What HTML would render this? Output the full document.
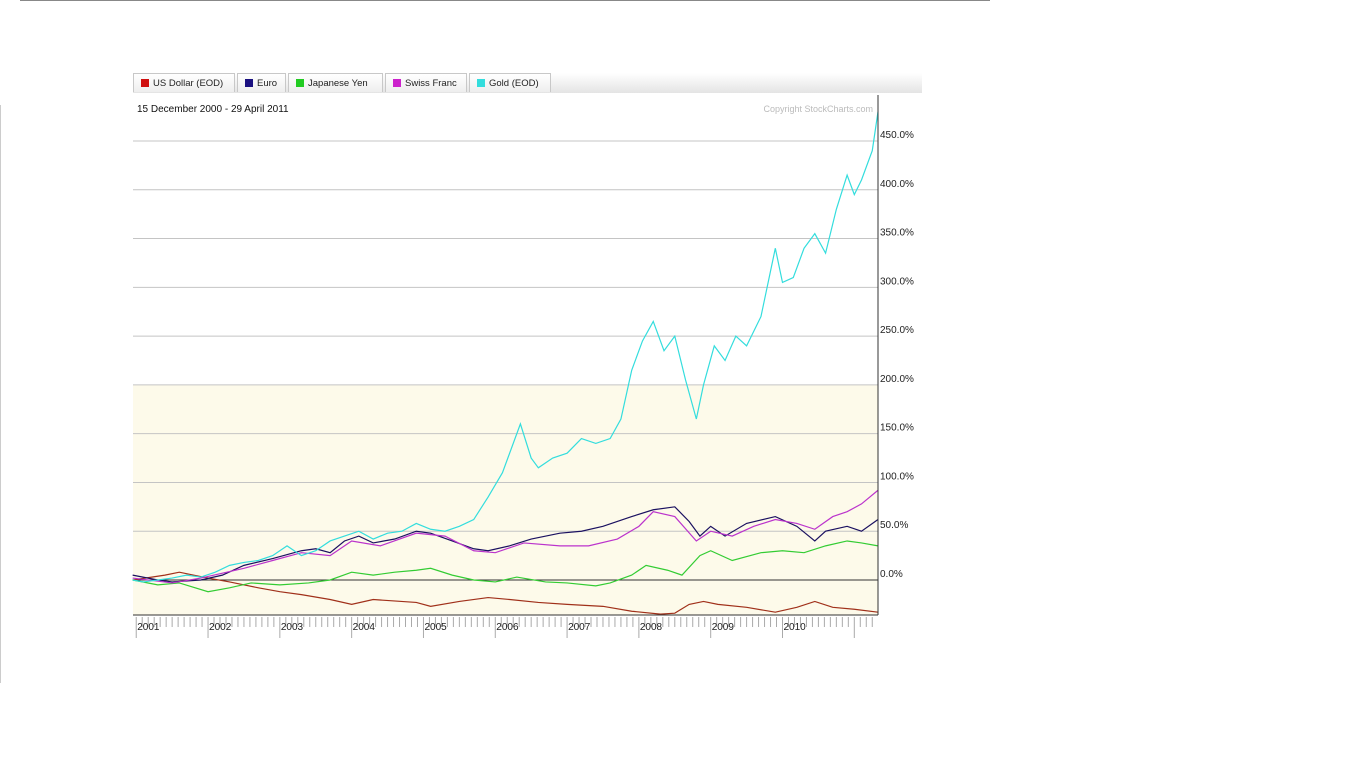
<!DOCTYPE html>
<html><head><meta charset="utf-8"><style>
body{margin:0;width:1351px;height:768px;background:#fff;overflow:hidden;font-family:"Liberation Sans",sans-serif;position:relative}
.tab{position:absolute;top:73px;height:19px;border:1px solid #c8c8c8;border-bottom:none;background:linear-gradient(#fff,#eee);font-size:9.5px;line-height:19px;color:#222;padding:0 4px 0 19px;box-sizing:border-box;white-space:nowrap;overflow:hidden}
.tab i{position:absolute;left:7px;top:5px;width:8px;height:8px}
</style></head><body>
<div style="position:absolute;left:20px;top:0;width:970px;height:1px;background:#888"></div>
<div style="position:absolute;left:0;top:105px;width:1px;height:578px;background:#ccc"></div>
<div style="position:absolute;left:133px;top:73px;width:789px;height:20px;background:linear-gradient(#fff,#e4e4e4)"></div>
<div class="tab" style="left:133px;width:102px"><i style="background:#d01010"></i>US Dollar (EOD)</div>
<div class="tab" style="left:237px;width:49px"><i style="background:#1a1080"></i>Euro</div>
<div class="tab" style="left:288px;width:95px"><i style="background:#22cc22"></i>Japanese Yen</div>
<div class="tab" style="left:385px;width:82px"><i style="background:#cc22cc"></i>Swiss Franc</div>
<div class="tab" style="left:469px;width:82px"><i style="background:#33dddd"></i>Gold (EOD)</div>
<svg id="chart" width="1351" height="768" style="position:absolute;left:0;top:0">
<rect x="133" y="385" width="745" height="230" fill="#fdfaea"/>
<text x="137" y="112" font-size="10" fill="#111">15 December 2000 - 29 April 2011</text>
<text x="873" y="112" font-size="9" fill="#bbb" text-anchor="end">Copyright StockCharts.com</text>
<g id="grid"></g><g id="series"></g><g id="axes"></g>
</svg>
<script>
const yTicks=[0,50,100,150,200,250,300,350,400,450];
const years=[2001,2002,2003,2004,2005,2006,2007,2008,2009,2010];
const goldT=[2000.95,2001.1,2001.3,2001.5,2001.7,2001.9,2002.1,2002.3,2002.5,2002.7,2002.9,2003.1,2003.3,2003.5,2003.7,2003.9,2004.1,2004.3,2004.5,2004.7,2004.9,2005.1,2005.3,2005.5,2005.7,2005.9,2006.1,2006.35,2006.5,2006.6,2006.8,2007.0,2007.2,2007.4,2007.6,2007.75,2007.9,2008.05,2008.2,2008.35,2008.5,2008.65,2008.8,2008.9,2009.05,2009.2,2009.35,2009.5,2009.7,2009.9,2010.0,2010.15,2010.3,2010.45,2010.6,2010.75,2010.9,2011.0,2011.1,2011.25,2011.33];
const goldV=[0,-2,0,2,5,3,8,15,18,20,25,35,25,30,40,45,50,42,48,50,58,52,50,55,62,85,110,160,125,115,125,130,145,140,145,165,215,245,265,235,250,205,165,200,240,225,250,240,270,340,305,310,340,355,335,380,415,395,410,440,480];
const euroT=[2000.95,2001.3,2001.5,2001.9,2002.2,2002.5,2002.9,2003.3,2003.5,2003.7,2003.9,2004.1,2004.3,2004.6,2004.9,2005.1,2005.4,2005.7,2005.9,2006.2,2006.5,2006.9,2007.2,2007.5,2007.9,2008.2,2008.5,2008.7,2008.85,2009.0,2009.2,2009.5,2009.9,2010.2,2010.45,2010.6,2010.9,2011.1,2011.33];
const euroV=[5,0,-2,0,5,15,22,30,32,28,40,45,38,42,50,48,40,32,30,35,42,48,50,55,65,72,75,60,45,55,45,58,65,55,40,50,55,50,62];
const chfT=[2000.95,2001.5,2001.9,2002.5,2002.9,2003.3,2003.7,2004.0,2004.4,2004.9,2005.3,2005.7,2006.0,2006.4,2006.9,2007.3,2007.7,2008.0,2008.2,2008.5,2008.8,2009.0,2009.3,2009.6,2009.9,2010.2,2010.45,2010.7,2010.9,2011.1,2011.33];
const chfV=[2,-3,2,12,20,28,25,40,35,48,45,30,28,38,35,35,42,55,70,65,40,50,45,55,62,58,52,65,70,78,92];
const yenT=[2000.95,2001.3,2001.6,2002.0,2002.3,2002.6,2003.0,2003.4,2003.7,2004.0,2004.3,2004.6,2004.9,2005.1,2005.4,2005.7,2006.0,2006.3,2006.7,2007.0,2007.4,2007.6,2007.9,2008.1,2008.4,2008.6,2008.85,2009.0,2009.3,2009.7,2010.0,2010.3,2010.6,2010.9,2011.1,2011.33];
const yenV=[0,-5,-3,-12,-8,-3,-5,-3,0,8,5,8,10,12,5,0,-2,3,-2,-3,-6,-3,5,15,10,5,25,30,20,28,30,28,35,40,38,35];
const usdT=[2000.95,2001.4,2001.6,2002.0,2002.3,2002.7,2003.0,2003.3,2003.7,2004.0,2004.3,2004.9,2005.1,2005.5,2005.9,2006.2,2006.6,2007.0,2007.5,2007.9,2008.3,2008.5,2008.7,2008.9,2009.1,2009.5,2009.9,2010.2,2010.45,2010.7,2011.0,2011.33];
const usdV=[0,5,8,2,-2,-8,-12,-15,-20,-25,-20,-23,-27,-22,-18,-20,-23,-25,-27,-32,-35,-34,-25,-22,-25,-28,-33,-28,-22,-28,-30,-33];
const X0=133,X1=878,T0=2000.955,T1=2011.33,Y0=580,PER=0.9756;
const xs=t=>X0+(t-T0)/(T1-T0)*(X1-X0);
const ys=v=>Y0-v*PER;
const NS='http://www.w3.org/2000/svg';
function mk(tag,attrs,parent){const e=document.createElementNS(NS,tag);for(const k in attrs)e.setAttribute(k,attrs[k]);parent.appendChild(e);return e;}
const grid=document.getElementById('grid'),axes=document.getElementById('axes'),ser=document.getElementById('series');
yTicks.forEach(v=>{
 const l=mk('line',{x1:X0,x2:X1,y1:ys(v),y2:ys(v),stroke:v===0?'#333':'#c4c4c4','stroke-width':1},grid);
 
 
 const t=mk('text',{x:880,y:ys(v)-3,'font-size':10,fill:'#222'},axes);t.textContent=v.toFixed(1)+'%';
 
 
});
const ax=mk('line',{x1:X0,x2:X1,y1:615,y2:615,stroke:'#333'},axes);


const ra=mk('line',{x1:X1,x2:X1,y1:95,y2:615,stroke:'#333'},axes);


for(let m=0;m<125;m++){const t=2001+m/12;if(t>T1)break;const major=m%12===0;
 const l=mk('line',{x1:xs(t),x2:xs(t),y1:617,y2:major?638:627,stroke:'#aaa'},axes);
 
 }
years.forEach(y=>{const t=mk('text',{x:xs(y)+1,y:630,'font-size':10,fill:'#222'},axes);t.textContent=y;
 
 });
function line(T,V,c,n){const p=mk('polyline',{points:T.map((t,i)=>xs(t)+','+ys(V[i])).join(' '),fill:'none',stroke:c,'stroke-width':1.2},ser);
 
 }
line(usdT,usdV,'#a0301a','series-us-dollar');
line(yenT,yenV,'#33cc33','series-japanese-yen');
line(euroT,euroV,'#1a1060','series-euro');
line(chfT,chfV,'#bb33cc','series-swiss-franc');
line(goldT,goldV,'#33dddd','series-gold');
</script>
</body></html>
